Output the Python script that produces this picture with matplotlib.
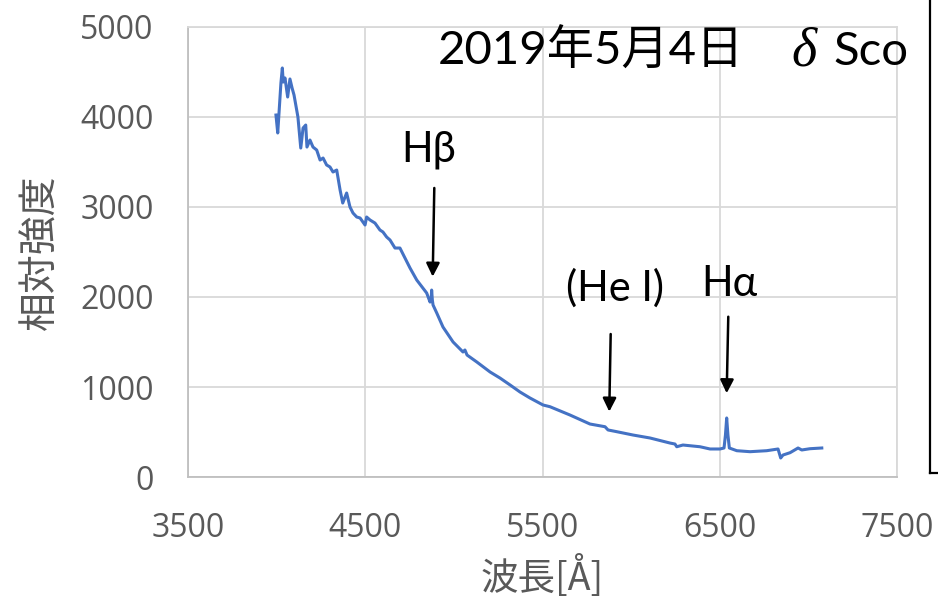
import matplotlib
matplotlib.use('Agg')
import matplotlib.pyplot as plt
from matplotlib.lines import Line2D

# ---- data ----
wavelength = [3995, 4005, 4023, 4031, 4036, 4046, 4061, 4074, 4086, 4097,
              4119, 4135, 4148, 4163, 4170, 4187, 4204, 4225, 4244, 4261,
              4281, 4300, 4317, 4338, 4357, 4372, 4394, 4413, 4430, 4451,
              4470, 4498, 4507, 4526, 4554, 4582, 4599, 4620, 4639, 4667,
              4695, 4752, 4790, 4846, 4865, 4872, 4874, 4878, 4882, 4903,
              4938, 4995, 5051, 5062, 5074, 5129, 5204, 5260, 5317, 5373,
              5429, 5503, 5542, 5655, 5768, 5853, 5870, 5919, 6011, 6107,
              6220, 6248, 6258, 6293, 6389, 6446, 6502, 6525, 6533, 6540,
              6547, 6555, 6597, 6672, 6766, 6830, 6845, 6858, 6898, 6943,
              6964, 7010, 7077]
intensity = [4018, 3819, 4373, 4540, 4384, 4429, 4218, 4418, 4318, 4240,
             3996, 3652, 3874, 3907, 3663, 3741, 3663, 3630, 3519, 3541,
             3464, 3442, 3386, 3408, 3187, 3042, 3153, 2998, 2931, 2887,
             2876, 2798, 2887, 2854, 2820, 2743, 2721, 2665, 2632, 2543,
             2543, 2321, 2188, 2044, 1944, 1989, 2077, 1966, 1911, 1822,
             1667, 1501, 1390, 1412, 1356, 1279, 1168, 1101, 1024, 946,
             880, 802, 783, 691, 591, 561, 525, 506, 469, 436,
             380, 369, 339, 358, 339, 314, 314, 325, 469, 658,
             469, 325, 295, 284, 295, 314, 214, 247, 273, 325,
             303, 317, 325]

x_ticks = [3500, 4500, 5500, 6500, 7500]
y_ticks = [0, 1000, 2000, 3000, 4000, 5000]

x_label = '波長[Å]'
y_label = '相対強度'
title_date = '2019年5月4日'
title_greek = 'δ'
title_star = 'Sco'

line_labels = ['Hβ', '(He I)', 'Hα']
label_xy = [(4859, 3499), (5908, 1959), (6553, 2011)]
arrow_from = [(4889, 3209), (5885, 1589), (6549, 1781)]
arrow_to = [(4880, 2225), (5877, 728), (6540, 932)]

# ---- figure ----
W, H = 938, 603
fig = plt.figure(figsize=(W / 100, H / 100), dpi=100)
left, right, top, bottom = 188.3, 896.7, 26.5, 477.3
ax = fig.add_axes([left / W, 1 - bottom / H, (right - left) / W, (bottom - top) / H])

ax.plot(wavelength, intensity, color='#4472C4', lw=2.2, solid_joinstyle='round', zorder=3)
ax.set_xlim(3500, 7500)
ax.set_ylim(0, 5000)
ax.set_xticks(x_ticks)
ax.set_yticks(y_ticks)
ax.grid(True, color='#D9D9D9', lw=1.3)
ax.set_axisbelow(True)
for s in ['top', 'right']:
    ax.spines[s].set_color('#D9D9D9')
    ax.spines[s].set_linewidth(1.3)
for s in ['left', 'bottom']:
    ax.spines[s].set_color('#BFBFBF')
    ax.spines[s].set_linewidth(1.3)

ax.tick_params(length=0, labelsize=23, labelcolor='#595959', pad=25)
for lab in ax.get_xticklabels() + ax.get_yticklabels():
    lab.set_family(['Open Sans', 'DejaVu Sans'])

cjk = ['Noto Sans CJK JP', 'DejaVu Sans']
ax.set_xlabel(x_label, fontsize=27, color='#595959', family=cjk, va='center')
ax.xaxis.set_label_coords(0.5, (bottom - 578) / (bottom - top))
ax.set_ylabel(y_label, fontsize=28, color='#595959', family=cjk, va='center')
ax.yaxis.set_label_coords((40 - left) / (right - left), 0.5)

# title text inside the plot
ty = (bottom - 65) / (bottom - top)
ax.text((438 - left) / (right - left), ty, title_date, transform=ax.transAxes,
        fontsize=34, family=['Lato', 'Noto Sans CJK JP', 'DejaVu Sans'],
        color='black', ha='left', va='baseline')
ax.text((791 - left) / (right - left), ty, title_greek, transform=ax.transAxes,
        fontsize=39, family=['Liberation Serif', 'DejaVu Serif'], style='italic',
        color='black', ha='left', va='baseline')
ax.text((833 - left) / (right - left), ty, title_star, transform=ax.transAxes,
        fontsize=34, family=['Lato', 'DejaVu Sans'],
        color='black', ha='left', va='baseline')

# line labels and arrows
for lab, (lx, ly), p0, p1 in zip(line_labels, label_xy, arrow_from, arrow_to):
    ax.text(lx, ly, lab, fontsize=30, family=['Lato', 'Noto Sans CJK JP', 'DejaVu Sans'],
            color='black', ha='center', va='baseline')
    ax.annotate('', xy=p1, xytext=p0,
                arrowprops=dict(arrowstyle='-|>', color='black', lw=1.8,
                                mutation_scale=20, shrinkA=0, shrinkB=0))

# partly visible box at the right edge
fx = 930 / W
fy = 1 - 473 / H
fig.add_artist(Line2D([fx, fx], [fy, 1.01], transform=fig.transFigure, color='black', lw=1.6))
fig.add_artist(Line2D([fx, 1.01], [fy, fy], transform=fig.transFigure, color='black', lw=1.6))

fig.savefig('out.png', dpi=100)
